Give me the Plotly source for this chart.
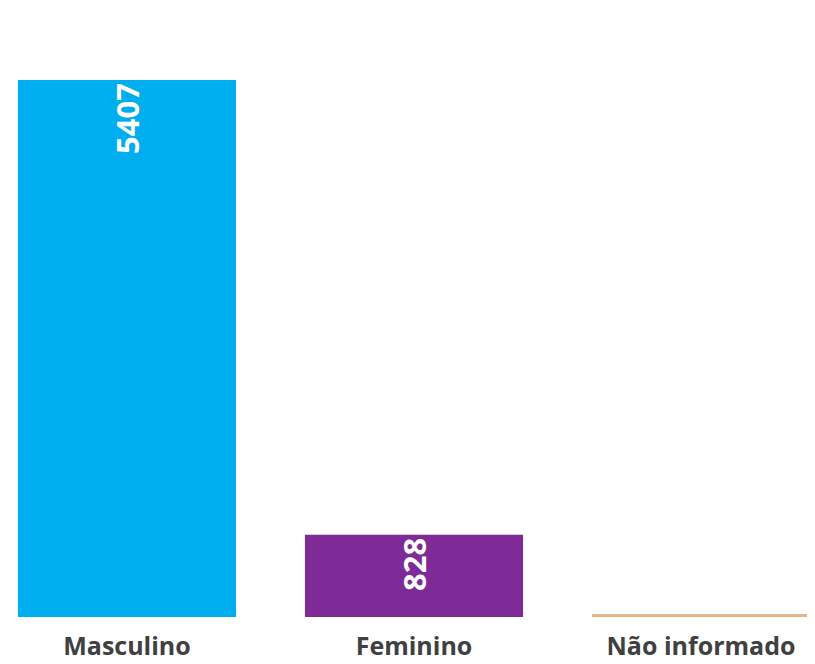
import plotly.graph_objects as go

categories = ["Masculino", "Feminino", "Não informado"]
values = [5407, 828, 30]
labels = ["5407", "828", ""]
colors = ["#00ADEE", "#7E2B97", "#E9B488"]

fig = go.Figure()
fig.add_trace(
    go.Bar(
        x=categories,
        y=values,
        text=labels,
        marker=dict(color=colors, line=dict(width=0)),
        width=0.76,
        textposition="inside",
        insidetextanchor="end",
        textangle=-90,
        textfont=dict(family="Open Sans", size=31, color="white", weight="bold"),
        constraintext="none",
        cliponaxis=False,
        hoverinfo="skip",
    )
)

# the page puts the plot 8px in from the top-left corner
fig.update_layout(
    width=815,
    height=664,
    margin=dict(l=0, r=0, t=0, b=55),
    paper_bgcolor="white",
    plot_bgcolor="white",
    showlegend=False,
    xaxis=dict(
        range=[-0.4146, 2.4251],
        showgrid=False,
        showline=False,
        zeroline=False,
        ticks="",
        ticklabelstandoff=12,
        tickfont=dict(family="Open Sans", size=25, color="#404040", weight="bold"),
    ),
    yaxis=dict(
        range=[0, 6132],
        visible=False,
    ),
)

fig.write_html("out.html")
